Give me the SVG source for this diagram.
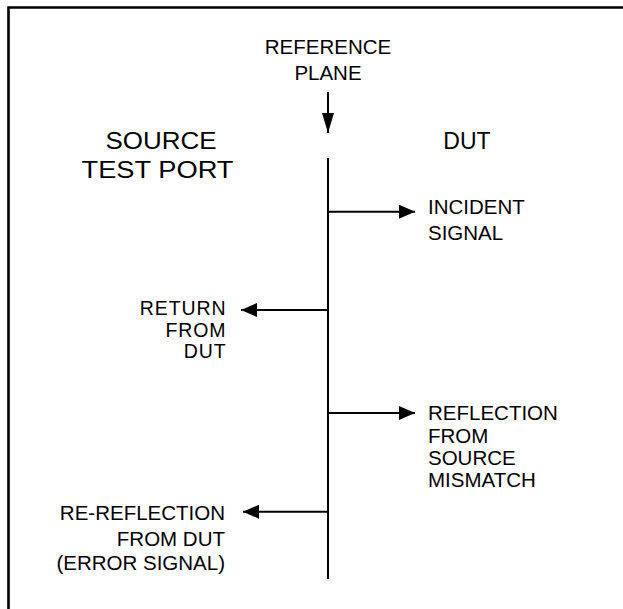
<svg xmlns="http://www.w3.org/2000/svg" width="623" height="609" viewBox="0 0 623 609">
  <defs>
    <marker id="ah" markerUnits="userSpaceOnUse" markerWidth="16" markerHeight="14" refX="16" refY="7" orient="auto">
      <path d="M0,0 L16,7 L0,14 Z" fill="#000"/>
    </marker>
    <marker id="ahv" markerUnits="userSpaceOnUse" markerWidth="20" markerHeight="12" refX="20" refY="6" orient="auto">
      <path d="M0,0 L20,6 L0,12 Z" fill="#000"/>
    </marker>
  </defs>
  <style>
    text { font-family: "Liberation Sans", Arial, sans-serif; fill: #000; }
    .lbl { font-size: 20.5px; }
    .sm { font-size: 19.5px; letter-spacing: 0.9px; }
    .hd { font-size: 23px; }
    .ln { stroke: #000; stroke-width: 2; fill: none; }
  </style>
  <rect width="623" height="609" fill="#fff"/>
  <g id="frame">
    <path d="M8.5,609 L8.5,7.5 L623,7.5" stroke="#000" stroke-width="2.6" fill="none"/>
  </g>
  <g id="reference-plane">
    <text class="lbl" x="328" y="54" text-anchor="middle">REFERENCE</text>
    <text class="lbl" x="328" y="80" text-anchor="middle">PLANE</text>
  </g>
  <g id="source-test-port">
    <text class="hd" x="161" y="148.7" text-anchor="middle" textLength="111" lengthAdjust="spacingAndGlyphs">SOURCE</text>
    <text class="hd" x="157.5" y="178.3" text-anchor="middle" textLength="152" lengthAdjust="spacingAndGlyphs">TEST PORT</text>
  </g>
  <g id="dut">
    <text class="hd" x="467" y="148.7" text-anchor="middle">DUT</text>
  </g>
  <g id="incident-signal">
    <text class="lbl" x="428" y="214.3">INCIDENT</text>
    <text class="lbl" x="428" y="240">SIGNAL</text>
  </g>
  <g id="return-from-dut">
    <text class="sm" x="226.5" y="315" text-anchor="end">RETURN</text>
    <text class="sm" x="226.5" y="336.7" text-anchor="end">FROM</text>
    <text class="sm" x="226.5" y="358" text-anchor="end">DUT</text>
  </g>
  <g id="reflection-from-source-mismatch">
    <text class="lbl" x="428" y="420">REFLECTION</text>
    <text class="lbl" x="428" y="442.5">FROM</text>
    <text class="lbl" x="428" y="464.5">SOURCE</text>
    <text class="lbl" x="428" y="487">MISMATCH</text>
  </g>
  <g id="re-reflection">
    <text class="lbl" x="225" y="520" text-anchor="end">RE-REFLECTION</text>
    <text class="lbl" x="225" y="546" text-anchor="end">FROM DUT</text>
    <text class="lbl" x="225" y="570" text-anchor="end">(ERROR SIGNAL)</text>
  </g>
  <g id="connectors">
    <line class="ln" x1="328" y1="158" x2="328" y2="579"/>
    <line class="ln" x1="328" y1="92" x2="328" y2="133" stroke-width="1.5" marker-end="url(#ahv)"/>
    <line class="ln" x1="328" y1="211.7" x2="415" y2="211.7" marker-end="url(#ah)"/>
    <line class="ln" x1="328" y1="310" x2="241" y2="310" marker-end="url(#ah)"/>
    <line class="ln" x1="328" y1="413" x2="415" y2="413" marker-end="url(#ah)"/>
    <line class="ln" x1="328" y1="511.7" x2="243" y2="511.7" marker-end="url(#ah)"/>
  </g>
</svg>
